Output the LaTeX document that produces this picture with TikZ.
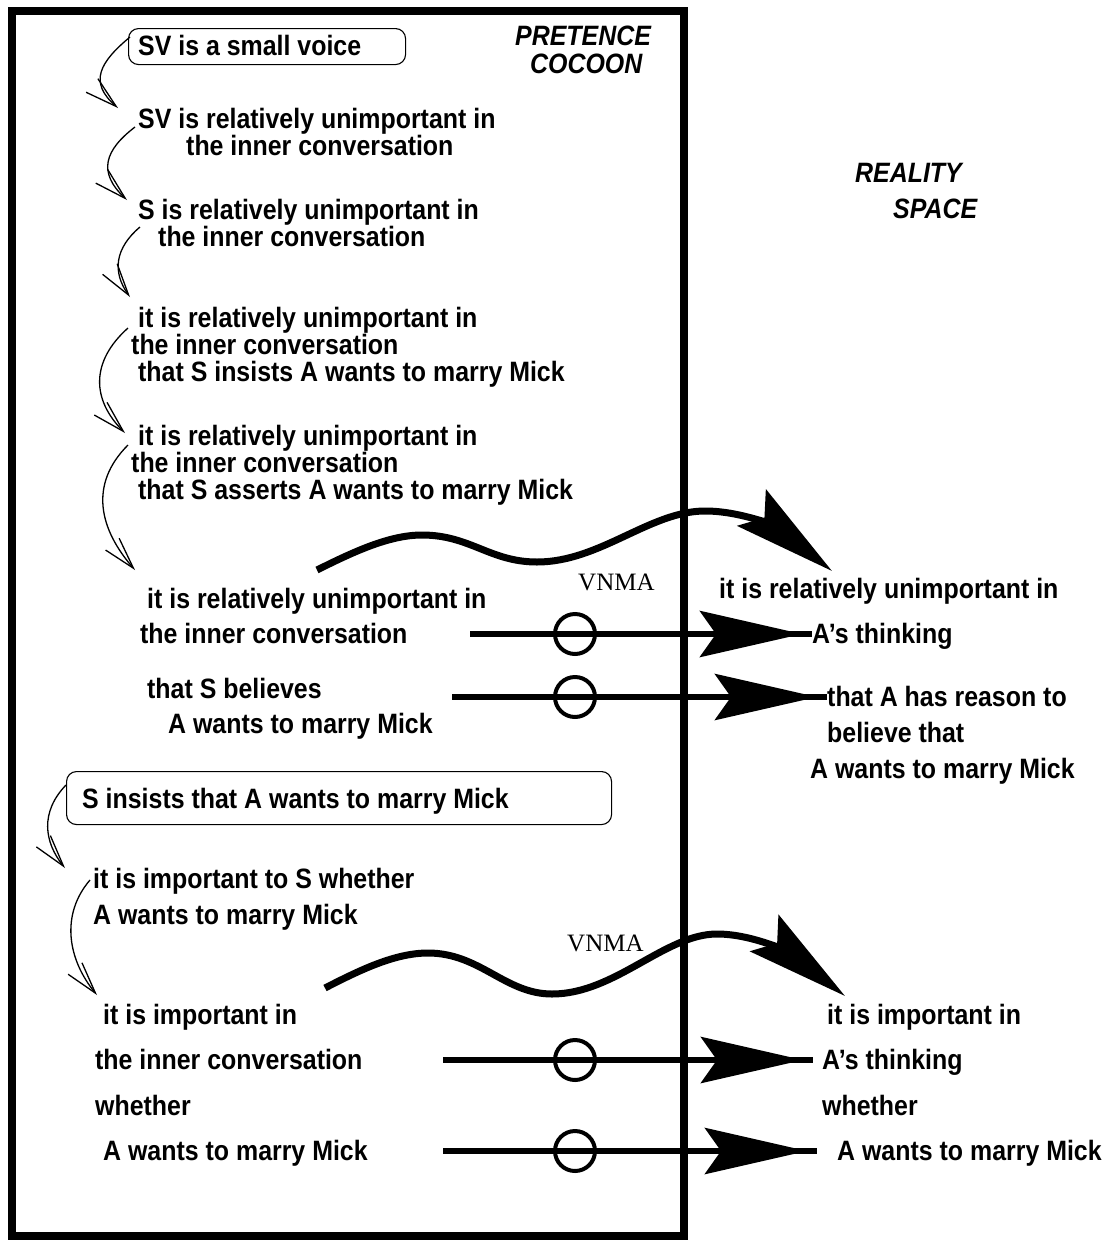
\documentclass[tikz,border=0pt]{standalone}
\usepackage{fontspec}
\usetikzlibrary{arrows.meta,decorations.markings}
\newfontfamily\nar[FakeStretch=0.89]{Liberation Sans}
\newfontfamily\tms{Liberation Serif}
\begin{document}
\begin{tikzpicture}[x=1pt,y=-1pt,
  txt/.style={font=\nar\bfseries\fontsize{28}{32}\selectfont, anchor=base west, inner sep=0pt},
  lab/.style={font=\nar\bfseries\itshape\fontsize{28}{32}\selectfont, anchor=base west, inner sep=0pt},
  vn/.style={font=\tms\fontsize{25}{28}\selectfont, anchor=base west, inner sep=0pt},
  framebox/.style={line width=8pt},
  rbox/.style={draw, rounded corners=10pt, line width=1.1pt, anchor=north west, inner sep=0pt},
  curl/.style={line width=1.3pt, -{Straight Barb[length=32pt,width=18pt,line width=1.3pt]}},
  wave/.style={line width=7pt, -{Stealth[length=102pt,width=46pt,inset=16pt]}},
  hline/.style={line width=6.5pt, postaction={decorate},
    decoration={markings, mark=at position -10pt with {\arrow{Stealth[length=102pt,width=46pt,inset=16pt]}}}},
  ring/.style={circle, draw, line width=4pt, minimum size=40pt, inner sep=0pt}
]
\useasboundingbox (0,0) rectangle (1105,1240);
% frame
\draw[framebox] (11.5,10.5) rectangle (684,1236);
% labels
\node[lab] (pre1) at (515,45) {PRETENCE};
\node[lab] (pre2) at (530,73) {COCOON};
\node[lab] (rea1) at (855,182) {REALITY};
\node[lab] (rea2) at (893,218) {SPACE};
% upper chain
\node[rbox, minimum width=277pt, minimum height=36pt] (b1) at (128,28) {};
\node[txt] (t1) at (138,55) {SV is a small voice};
\node[txt] (t2a) at (138,128) {SV is relatively unimportant in};
\node[txt] (t2b) at (186,155) {the inner conversation};
\node[txt] (t3a) at (138,219) {S is relatively unimportant in};
\node[txt] (t3b) at (158,246) {the inner conversation};
\node[txt] (t4a) at (138,327) {it is relatively unimportant in};
\node[txt] (t4b) at (131,354) {the inner conversation};
\node[txt] (t4c) at (138,381) {that S insists A wants to marry Mick};
\node[txt] (t5a) at (138,445) {it is relatively unimportant in};
\node[txt] (t5b) at (131,472) {the inner conversation};
\node[txt] (t5c) at (138,499) {that S asserts A wants to marry Mick};
\node[txt] (t6a) at (147,608) {it is relatively unimportant in};
\node[txt] (t6b) at (140,643) {the inner conversation};
\node[txt] (t7a) at (147,698) {that S believes};
\node[txt] (t7b) at (168,733) {A wants to marry Mick};
% lower chain
\node[rbox, minimum width=545pt, minimum height=53pt] (b2) at (66,771) {};
\node[txt] (u1) at (82,808) {S insists that A wants to marry Mick};
\node[txt] (u2a) at (93,888) {it is important to S whether};
\node[txt] (u2b) at (93,924) {A wants to marry Mick};
\node[txt] (u3a) at (103,1024) {it is important in};
\node[txt] (u3b) at (95,1069) {the inner conversation};
\node[txt] (u3c) at (95,1115) {whether};
\node[txt] (u3d) at (103,1160) {A wants to marry Mick};
% right side
\node[txt] (r1a) at (719,598) {it is relatively unimportant in};
\node[txt] (r1b) at (812,643) {A’s thinking};
\node[txt] (r2a) at (827,706) {that A has reason to};
\node[txt] (r2b) at (827,742) {believe that};
\node[txt] (r2c) at (810,778) {A wants to marry Mick};
\node[txt] (r3a) at (827,1024) {it is important in};
\node[txt] (r3b) at (822,1069) {A’s thinking};
\node[txt] (r3c) at (822,1115) {whether};
\node[txt] (r3d) at (837,1160) {A wants to marry Mick};
% VNMA labels
\node[vn] (vn1) at (578,590) {VNMA};
\node[vn] (vn2) at (567,951) {VNMA};
% curly connectors
\coordinate (c1s) at (130,37);  \coordinate (c1e) at (118,108);
\coordinate (c2s) at (135,127); \coordinate (c2e) at (127,200);
\coordinate (c3s) at (140,227); \coordinate (c3e) at (130,297);
\coordinate (c4s) at (128,328); \coordinate (c4e) at (125,433);
\coordinate (c5s) at (128,445); \coordinate (c5e) at (135,570);
\coordinate (c6s) at (66,785);  \coordinate (c6e) at (65,868);
\coordinate (c7s) at (90,880);  \coordinate (c7e) at (97,995);
\draw[curl] (c1s) .. controls (100,62) and (88,82) .. (c1e);
\draw[curl] (c2s) .. controls (105,150) and (97,172) .. (c2e);
\draw[curl] (c3s) .. controls (115,248) and (112,272) .. (c3e);
\draw[curl] (c4s) .. controls (90,362) and (92,400) .. (c4e);
\draw[curl] (c5s) .. controls (88,485) and (100,530) .. (c5e);
\draw[curl] (c6s) .. controls (40,812) and (44,842) .. (c6e);
\draw[curl] (c7s) .. controls (60,915) and (68,960) .. (c7e);
% wavy connectors
\coordinate (w1s) at (317,570); \coordinate (w1e) at (832,571);
\coordinate (w2s) at (325,988); \coordinate (w2e) at (845,996);
\draw[wave] (w1s) .. controls (355,551) and (390,535) .. (422,535)
  .. controls (470,535) and (490,562) .. (537,562)
  .. controls (600,562) and (650,511) .. (705,511)
  .. controls (745,511) and (780,530) .. (w1e);
\draw[wave] (w2s) .. controls (360,970) and (395,953) .. (428,953)
  .. controls (480,953) and (505,994) .. (552,994)
  .. controls (615,994) and (665,934) .. (717,934)
  .. controls (757,934) and (795,957) .. (w2e);
% horizontal connectors
\coordinate (h1s) at (470,634);  \coordinate (h1e) at (812,634);
\coordinate (h2s) at (452,697);  \coordinate (h2e) at (827,697);
\coordinate (h3s) at (443,1060); \coordinate (h3e) at (813,1060);
\coordinate (h4s) at (443,1151); \coordinate (h4e) at (817,1151);
\draw[hline] (h1s) -- (h1e);
\draw[hline] (h2s) -- (h2e);
\draw[hline] (h3s) -- (h3e);
\draw[hline] (h4s) -- (h4e);
\node[ring] (o1) at (575,634) {};
\node[ring] (o2) at (575,697) {};
\node[ring] (o3) at (575,1060) {};
\node[ring] (o4) at (575,1151) {};
\end{tikzpicture}
\end{document}
